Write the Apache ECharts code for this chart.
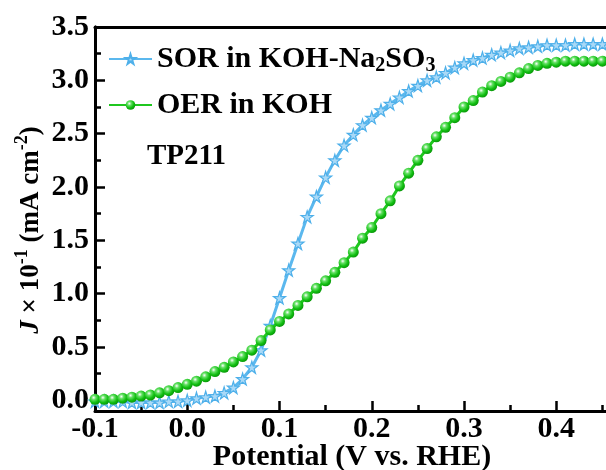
<!DOCTYPE html>
<html>
<head>
<meta charset="utf-8">
<script src="https://cdn.jsdelivr.net/npm/echarts@6/dist/echarts.min.js"></script>
<style>html,body{margin:0;padding:0;background:#fff}#c{width:606px;height:470px}</style>
</head>
<body>
<div id="c"></div>
<script>
const potentials = [-0.10,-0.09,-0.08,-0.07,-0.06,-0.05,-0.04,-0.03,-0.02,-0.01,
  0.00,0.01,0.02,0.03,0.04,0.05,0.06,0.07,0.08,0.09,
  0.10,0.11,0.12,0.13,0.14,0.15,0.16,0.17,0.18,0.19,
  0.20,0.21,0.22,0.23,0.24,0.25,0.26,0.27,0.28,0.29,
  0.30,0.31,0.32,0.33,0.34,0.35,0.36,0.37,0.38,0.39,
  0.40,0.41,0.42,0.43,0.44,0.45,0.46];
const sorValues = [-0.01,-0.01,-0.01,-0.01,-0.02,-0.02,-0.02,-0.02,-0.01,-0.01,
  0.00,0.02,0.03,0.04,0.07,0.12,0.20,0.31,0.47,0.70,
  0.96,1.22,1.47,1.72,1.91,2.09,2.25,2.39,2.49,2.58,
  2.65,2.72,2.78,2.84,2.90,2.95,3.00,3.03,3.07,3.12,
  3.16,3.19,3.21,3.24,3.26,3.28,3.30,3.31,3.32,3.33,
  3.33,3.33,3.34,3.34,3.34,3.34,3.34];
const oerValues = [0.01,0.01,0.01,0.02,0.03,0.04,0.05,0.07,0.09,0.12,
  0.15,0.18,0.22,0.27,0.31,0.36,0.41,0.47,0.56,0.66,
  0.74,0.81,0.89,0.97,1.05,1.12,1.20,1.29,1.39,1.52,
  1.62,1.75,1.87,2.01,2.13,2.25,2.36,2.47,2.56,2.65,
  2.75,2.81,2.89,2.95,2.99,3.03,3.07,3.11,3.14,3.16,
  3.17,3.18,3.18,3.18,3.18,3.18,3.18];
const seriesNames = ['SOR in KOH-Na2SO3','OER in KOH'];

const FONT = 'Liberation Serif';
const GRID_L = 95, GRID_T = 27, GRID_W = 553.5, GRID_H = 384;
const PX_PER_UNIT = GRID_H / 3.6;
const starPath = 'path://M50,0 L61,35 L98,35 L68,57 L79,91 L50,70 L21,91 L32,57 L2,35 L39,35 Z';
const fmt = v => (Math.abs(v) < 1e-9 ? 0 : v).toFixed(1);
const axisLineStyle = {color:'#000', width:3};
const tickLine = {color:'#000', width:2.5};
const labelStyle = {fontFamily:FONT, fontWeight:'bold', fontSize:30, color:'#000'};

const chart = echarts.init(document.getElementById('c'), null, {renderer:'canvas'});
chart.setOption({
  animation:false,
  grid:[
    {left:GRID_L, top:GRID_T, width:GRID_W, height:GRID_H, outerBoundsMode:'none', containLabel:false},
    {left:GRID_L, top:GRID_T, width:GRID_W, height:PX_PER_UNIT*3.5, outerBoundsMode:'none', containLabel:false},
    {left:0, top:GRID_T, width:GRID_L, height:PX_PER_UNIT*3.5, outerBoundsMode:'none', containLabel:false}
  ],
  xAxis:[{
    gridIndex:0, type:'value', min:-0.1, max:0.5, interval:0.1,
    axisLine:{show:true, onZero:false, lineStyle:axisLineStyle},
    axisTick:{show:true, inside:true, length:10, lineStyle:tickLine},
    minorTick:{show:true, splitNumber:2, length:6, lineStyle:tickLine},
    axisLabel:Object.assign({margin:3, formatter:fmt}, labelStyle),
    splitLine:{show:false}
  },{
    gridIndex:0, type:'value', position:'top', min:-0.1, max:0.5,
    axisLine:{show:true, onZero:false, lineStyle:axisLineStyle},
    axisTick:{show:false}, axisLabel:{show:false}, splitLine:{show:false}
  },
  {gridIndex:1, type:'value', min:1, max:2, show:false},
  {gridIndex:2, type:'value', min:1, max:2, show:false}
  ],
  yAxis:[{
    gridIndex:0, type:'value', min:-0.1, max:3.5, position:'left',
    axisLine:{show:true, onZero:false, lineStyle:axisLineStyle},
    axisTick:{show:false}, axisLabel:{show:false}, splitLine:{show:false}
  },{
    gridIndex:1, type:'value', min:0, max:3.5, interval:0.5, position:'left',
    axisLine:{show:false, onZero:false},
    axisTick:{show:false},
    axisLabel:Object.assign({margin:6, formatter:fmt}, labelStyle),
    splitLine:{show:false}
  },{
    gridIndex:2, type:'value', min:0, max:3.5, interval:0.5, position:'right',
    axisLine:{show:true, onZero:false, lineStyle:axisLineStyle},
    axisTick:{show:true, inside:false, length:10, lineStyle:tickLine},
    minorTick:{show:true, splitNumber:2, length:6, lineStyle:tickLine},
    axisLabel:{show:false},
    splitLine:{show:false}
  }],
  legend:{
    data:seriesNames, left:103, top:39, orient:'vertical',
    itemWidth:43, itemHeight:12, itemGap:14,
    textStyle:{fontFamily:FONT, fontWeight:'bold', fontSize:30, color:'#000',
      rich:{
        n:{fontFamily:FONT, fontWeight:'bold', fontSize:30, color:'#000'},
        s:{fontFamily:FONT, fontWeight:'bold', fontSize:20, color:'#000', padding:[14,0,0,0]}
      }},
    formatter:function(name){
      if (name === seriesNames[0]) return '{n|SOR in KOH-Na}{s|2}{n|SO}{s|3}';
      return '{n|' + name + '}';
    }
  },
  graphic:[{
    type:'text', x:31, y:230, rotation:Math.PI/2,
    style:{
      text:'{i|J} × 10{p|-1} (mA cm{p|-2})',
      align:'center', verticalAlign:'middle',
      fontFamily:FONT, fontWeight:'bold', fontSize:27, fill:'#000',
      rich:{
        i:{fontFamily:FONT, fontWeight:'bold', fontStyle:'italic', fontSize:27, fill:'#000'},
        p:{fontFamily:FONT, fontWeight:'bold', fontSize:18, fill:'#000', padding:[0,0,18,0]}
      }
    }
  },{
    type:'text', x:147, y:157,
    style:{text:'TP211', fontFamily:FONT, fontWeight:'bold', fontSize:29, fill:'#000', align:'left', verticalAlign:'middle'}
  },{
    type:'text', x:352, y:457,
    style:{text:'Potential (V vs. RHE)', fontFamily:FONT, fontWeight:'bold', fontSize:30, fill:'#000', align:'center', verticalAlign:'middle'}
  }],
  series:[{
    name:seriesNames[0], type:'line', xAxisIndex:0, yAxisIndex:0,
    data:potentials.map((x,i)=>[x, sorValues[i]]),
    symbol:starPath, symbolSize:12, showSymbol:true,
    lineStyle:{color:'#5bb8ee', width:3},
    itemStyle:{color:'#a9d9f7', borderColor:'#4eb0ea', borderWidth:1.2},
    z:2
  },{
    name:seriesNames[1], type:'line', xAxisIndex:0, yAxisIndex:0,
    data:potentials.map((x,i)=>[x, oerValues[i]]),
    symbol:'circle', symbolSize:11, showSymbol:true,
    lineStyle:{color:'#1fc71f', width:3},
    itemStyle:{
      color:{type:'radial', x:0.38, y:0.35, r:0.65, colorStops:[
        {offset:0, color:'#ffffff'},{offset:0.3, color:'#66e066'},{offset:0.7, color:'#12c012'},{offset:1, color:'#0a9a0a'}]},
      borderWidth:0
    },
    z:3
  }]
});
</script>
</body>
</html>
